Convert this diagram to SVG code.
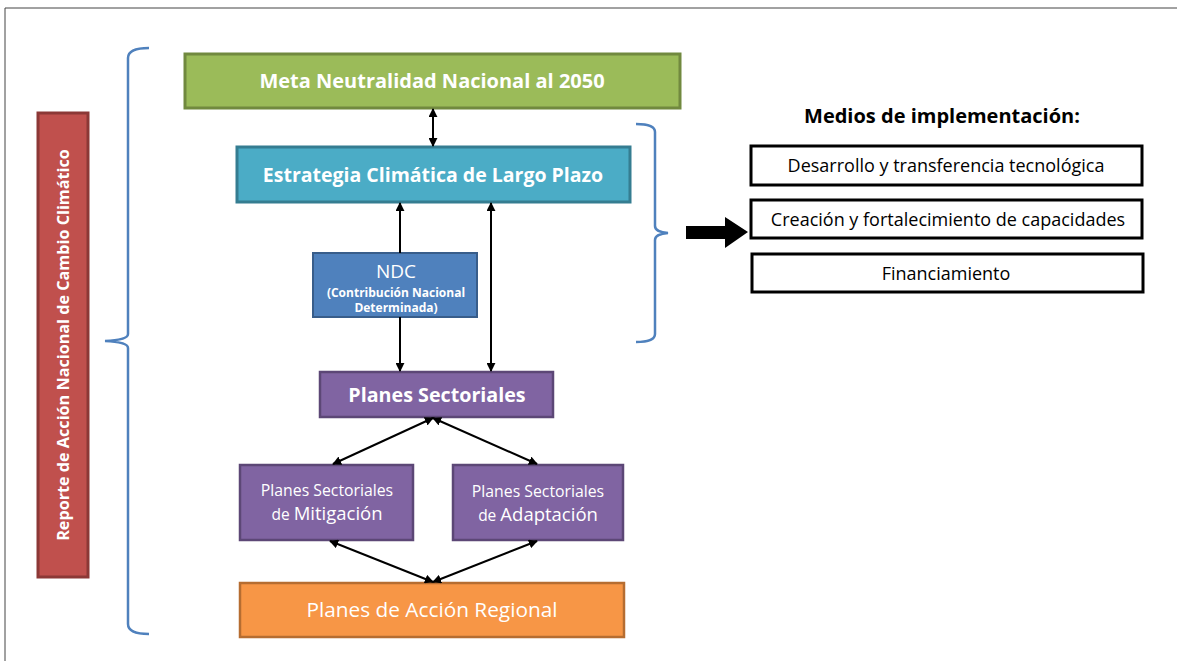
<svg xmlns="http://www.w3.org/2000/svg" width="1177" height="661" viewBox="0 0 1177 661">
<defs>
<marker id="ah" viewBox="0 0 10 10" refX="9" refY="5" markerWidth="9" markerHeight="9" markerUnits="userSpaceOnUse" orient="auto-start-reverse">
<path d="M0,0 L10,5 L0,10 z" fill="#000"/>
</marker>
<style>
.t{font-family:"Open Sans",Lato,"Liberation Sans",sans-serif;fill:#fff;text-anchor:middle}
.b{font-weight:bold}
.k{fill:#000}
.c{stroke:#000;stroke-width:2;fill:none}
.br{stroke:#4F81BD;stroke-width:2.5;fill:none}
.mb{fill:#fff;stroke:#000;stroke-width:3}
</style>
</defs>
<rect width="1177" height="661" fill="#fff"/>
<path d="M5,661 L5,8 L1177,8" fill="none" stroke="#444" stroke-width="1"/>

<g id="braces">
<path class="br" d="M149,48 Q128,48 128,58 L128,334 Q128,340 105,341 Q128,342 128,348 L128,624 Q128,634 149,634"/>
<path class="br" d="M636,124 Q655,124 655,132 L655,226 Q655,232 668,233 Q655,234 655,240 L655,334 Q655,342 636,342"/>
</g>

<g id="reporte">
<rect x="38" y="113" width="50" height="464" fill="#C0504D" stroke="#8C3836" stroke-width="3"/>
<text class="t b" font-size="16.2" transform="translate(69,345) rotate(-90)">Reporte de Acción Nacional de Cambio Climático</text>
</g>

<g id="meta">
<rect x="185" y="54" width="495" height="54" fill="#9BBB59" stroke="#71893F" stroke-width="3"/>
<text class="t b" x="432" y="88" font-size="20">Meta Neutralidad Nacional al 2050</text>
</g>

<g id="estrategia">
<rect x="237" y="147" width="393" height="55" fill="#4BACC6" stroke="#357D91" stroke-width="3"/>
<text class="t b" x="433" y="182" font-size="19.5">Estrategia Climática de Largo Plazo</text>
</g>

<g id="ndc">
<rect x="313" y="253" width="164" height="64" fill="#4F81BD" stroke="#385D8A" stroke-width="2"/>
<text class="t" x="396" y="278" font-size="19">NDC</text>
<text class="t b" x="396" y="297" font-size="12">(Contribución Nacional</text>
<text class="t b" x="396" y="312" font-size="12">Determinada)</text>
</g>

<g id="sectoriales">
<rect x="320" y="372" width="233" height="45" fill="#8064A2" stroke="#5C4776" stroke-width="2.5"/>
<text class="t b" x="437" y="402" font-size="19.7">Planes Sectoriales</text>
</g>

<g id="mitigacion">
<rect x="240" y="465" width="173" height="75" fill="#8064A2" stroke="#5C4776" stroke-width="2.5"/>
<text class="t" x="327" y="496" font-size="15.8">Planes Sectoriales</text>
<text class="t" x="327" y="520" font-size="15.5">de <tspan font-size="18.5">Mitigación</tspan></text>
</g>

<g id="adaptacion">
<rect x="453" y="465" width="170" height="75" fill="#8064A2" stroke="#5C4776" stroke-width="2.5"/>
<text class="t" x="538" y="497" font-size="15.8">Planes Sectoriales</text>
<text class="t" x="538" y="521" font-size="15.5">de <tspan font-size="18.5">Adaptación</tspan></text>
</g>

<g id="regional">
<rect x="240" y="583" width="384" height="54" fill="#F79646" stroke="#B66D31" stroke-width="2.5"/>
<text class="t" x="432" y="617" font-size="20.8">Planes de Acción Regional</text>
</g>

<g id="medios">
<text class="t b k" x="942" y="123" font-size="20">Medios de implementación:</text>
<rect class="mb" x="751" y="146" width="391" height="39"/>
<text class="t k" x="946" y="172" font-size="18">Desarrollo y transferencia tecnológica</text>
<rect class="mb" x="751" y="200" width="391" height="38"/>
<text class="t k" x="948" y="226" font-size="18">Creación y fortalecimiento de capacidades</text>
<rect class="mb" x="752" y="254" width="391" height="38"/>
<text class="t k" x="946" y="280" font-size="18">Financiamiento</text>
</g>

<g id="connectors">
<line class="c" x1="433" y1="109" x2="433" y2="146" marker-start="url(#ah)" marker-end="url(#ah)"/>
<line class="c" x1="400" y1="253" x2="400" y2="203" marker-end="url(#ah)"/>
<line class="c" x1="400" y1="317" x2="400" y2="371" marker-end="url(#ah)"/>
<line class="c" x1="491" y1="203" x2="491" y2="371" marker-start="url(#ah)" marker-end="url(#ah)"/>
<line class="c" x1="433" y1="418" x2="333" y2="464" marker-start="url(#ah)" marker-end="url(#ah)"/>
<line class="c" x1="433" y1="418" x2="537" y2="464" marker-start="url(#ah)" marker-end="url(#ah)"/>
<line class="c" x1="330" y1="541" x2="433" y2="582" marker-start="url(#ah)" marker-end="url(#ah)"/>
<line class="c" x1="537" y1="541" x2="433" y2="582" marker-start="url(#ah)" marker-end="url(#ah)"/>
<path d="M686,226 L725,226 L725,217 L748,232 L725,248 L725,239 L686,239 z" fill="#000"/>
</g>
</svg>
